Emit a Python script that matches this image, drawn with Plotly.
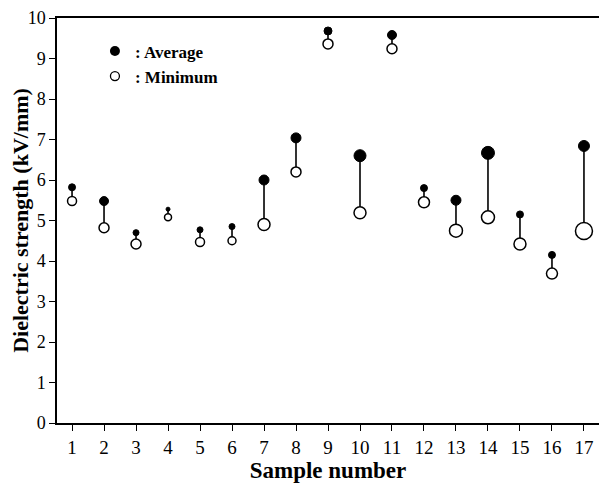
import plotly.graph_objects as go

samples = list(range(1, 18))
average = [5.82, 5.48, 4.70, 5.28, 4.77, 4.85, 6.00, 7.04, 9.68, 6.60, 9.58, 5.80, 5.50, 6.67, 5.15, 4.15, 6.84]
minimum = [5.48, 4.82, 4.42, 5.08, 4.47, 4.50, 4.90, 6.20, 9.36, 5.19, 9.24, 5.45, 4.75, 5.08, 4.42, 3.69, 4.74]
tick_labels = [str(s) for s in samples]

# marker styling (pixel sizes, approximating the scanned ellipses)
avg_size = [7, 9, 6, 4, 6, 6, 10, 10, 8, 12, 9, 7, 10, 13, 7, 7, 11]
min_size = [9, 10, 10, 7, 9, 8, 12, 10, 10, 12, 10, 11, 13, 13, 12, 11, 17]

font_family = "Liberation Serif, Times New Roman, serif"

fig = go.Figure()

# vertical connecting lines
lx, ly = [], []
for s, a, m in zip(samples, average, minimum):
    lx += [s, s, None]
    ly += [a, m, None]
fig.add_trace(go.Scatter(x=lx, y=ly, mode="lines", line=dict(color="black", width=1.6),
                         showlegend=False, hoverinfo="skip"))

fig.add_trace(go.Scatter(x=samples, y=minimum, mode="markers", showlegend=False,
                         marker=dict(symbol="circle", size=min_size, color="white", opacity=1,
                                     line=dict(color="black", width=1.5))))
fig.add_trace(go.Scatter(x=samples, y=average, mode="markers", showlegend=False,
                         marker=dict(symbol="circle", size=avg_size, color="black", opacity=1,
                                     line=dict(color="black", width=1))))

# legend entries
fig.add_trace(go.Scatter(x=[None], y=[None], mode="markers", name=": Average",
                         marker=dict(symbol="circle", size=10, color="black")))
fig.add_trace(go.Scatter(x=[None], y=[None], mode="markers", name=": Minimum",
                         marker=dict(symbol="circle", size=9, color="white",
                                     line=dict(color="black", width=1.3))))

# page body has an 8px margin, so the figure is sized/offset to compensate
fig.update_layout(
    width=599, height=481,
    margin=dict(l=49, r=8, t=10, b=66),
    paper_bgcolor="white", plot_bgcolor="white",
    font=dict(family=font_family, color="black", size=18),
    legend=dict(x=0.07, y=0.962, xanchor="left", yanchor="top",
                bgcolor="rgba(0,0,0,0)", itemwidth=30, tracegroupgap=0,
                font=dict(family=font_family, size=17, weight="bold"), itemclick=False),
    showlegend=True,
)
fig.update_xaxes(
    range=[0.53, 17.47], tickmode="array", tickvals=samples, ticktext=tick_labels,
    ticks="outside", ticklen=6, tickwidth=1.2, tickcolor="black",
    showline=True, linecolor="black", linewidth=1.5, mirror=True,
    showgrid=False, zeroline=False, automargin=False, ticklabeloverflow="allow",
    tickfont=dict(family=font_family, size=19),
    title=dict(text="Sample number", font=dict(family=font_family, size=23, weight="bold"), standoff=4),
)
fig.update_yaxes(
    range=[0, 10], tickmode="linear", tick0=0, dtick=1,
    ticks="outside", ticklen=6, tickwidth=1.2, tickcolor="black",
    showline=True, linecolor="black", linewidth=1.5, mirror=True,
    showgrid=False, zeroline=False, automargin=False, ticklabeloverflow="allow",
    tickfont=dict(family=font_family, size=18),
    title=dict(text="Dielectric strength (kV/mm)", font=dict(family=font_family, size=22, weight="bold"), standoff=6),
)

fig.write_html("out.html")
